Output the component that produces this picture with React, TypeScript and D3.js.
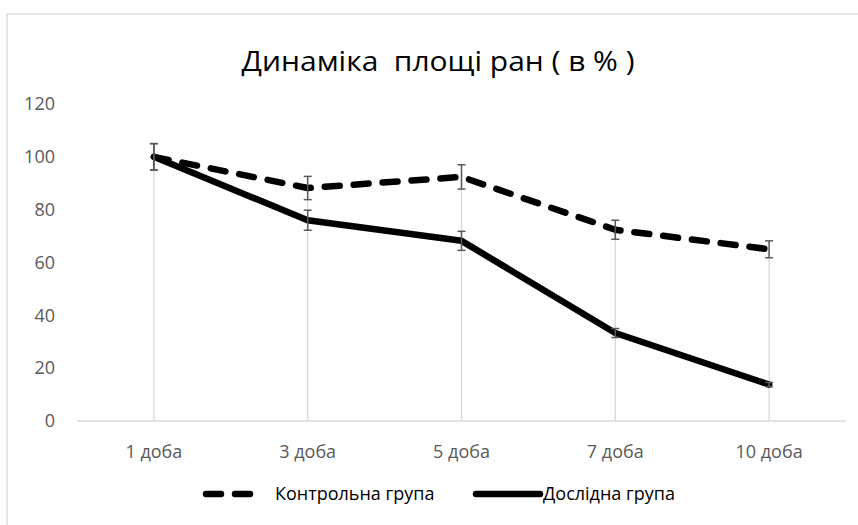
import React from "react";
import * as d3 from "d3";

const categories = ["1 доба", "3 доба", "5 доба", "7 доба", "10 доба"];
const controlValues = [100, 88.2, 92.4, 72.4, 65];
const controlErrors = [5, 4.4, 4.6, 3.6, 3.2];
const experimentValues = [100, 76, 68.2, 33.3, 13.8];
const experimentErrors = [5, 3.8, 3.6, 1.7, 0.8];
const yTicks = [0, 20, 40, 60, 80, 100, 120];
const seriesNames = ["Контрольна група", "Дослідна група"];
const title = "Динаміка  площі ран ( в % )";

const W = 858;
const H = 525;
const left = 77;
const right = 846;
const top = 104;
const bottom = 421;

export default function App() {
  const x = d3.scaleBand<string>().domain(categories).range([left, right]).padding(0);
  const cx = (c: string) => (x(c) as number) + x.bandwidth() / 2;
  const y = d3.scaleLinear().domain([0, 120]).range([bottom, top]);
  const line = d3
    .line<number>()
    .x((_, i) => cx(categories[i]))
    .y((d) => y(d));

  const font = "'Open Sans', 'Noto Sans', sans-serif";
  const grey = "#595959";

  const errBar = (v: number, e: number, c: string, k: string) => (
    <g key={k} stroke={grey} strokeWidth={1.5}>
      <line x1={cx(c)} x2={cx(c)} y1={y(v + e)} y2={y(v - e)} />
      <line x1={cx(c) - 4} x2={cx(c) + 4} y1={y(v + e)} y2={y(v + e)} />
      <line x1={cx(c) - 4} x2={cx(c) + 4} y1={y(v - e)} y2={y(v - e)} />
    </g>
  );

  return (
    <svg
      width={W}
      height={H}
      style={{ position: "absolute", left: 0, top: 0, background: "#fff" }}
    >
      <rect x={7} y={14} width={W + 10} height={H + 10} fill="#fff" stroke="#d9d9d9" strokeWidth={1.3} />
      <text
        x={438}
        y={71}
        textAnchor="middle"
        fontFamily={font}
        fontSize={28}
        fill="#000"
        textLength={393}
        lengthAdjust="spacingAndGlyphs"
        style={{ whiteSpace: "pre" }}
      >
        {title}
      </text>
      {yTicks.map((t) => (
        <text key={t} x={55} y={y(t)} dy="0.35em" textAnchor="end" fontFamily={font} fontSize={18} fill={grey}>
          {t}
        </text>
      ))}
      <line x1={left} x2={right} y1={bottom} y2={bottom} stroke="#d9d9d9" strokeWidth={1.3} />
      {categories.map((c, i) => (
        <line
          key={"drop" + c}
          x1={cx(c)}
          x2={cx(c)}
          y1={y(Math.max(controlValues[i], experimentValues[i]))}
          y2={bottom}
          stroke="#d9d9d9"
          strokeWidth={1.3}
        />
      ))}
      {categories.map((c) => (
        <text key={"lab" + c} x={cx(c)} y={452} dy="0.35em" textAnchor="middle" fontFamily={font} fontSize={18} fill={grey}>
          {c}
        </text>
      ))}
      <path
        d={line(experimentValues) as string}
        fill="none"
        stroke="#000"
        strokeWidth={6.5}
        strokeLinejoin="round"
        strokeLinecap="round"
      />
      <path
        d={line(controlValues) as string}
        fill="none"
        stroke="#000"
        strokeWidth={6.5}
        strokeDasharray="15 14"
        strokeLinejoin="round"
        strokeLinecap="round"
      />
      {categories.map((c, i) => errBar(controlValues[i], controlErrors[i], c, "ce" + i))}
      {categories.map((c, i) => errBar(experimentValues[i], experimentErrors[i], c, "ee" + i))}
      <g>
        <line x1={206} x2={255} y1={494} y2={494} stroke="#000" strokeWidth={6.5} strokeDasharray="15 14" strokeLinecap="round" />
        <text x={275} y={494} dy="0.35em" fontFamily={font} fontSize={18} fill="#000">
          {seriesNames[0]}
        </text>
        <line x1={476} x2={540} y1={494} y2={494} stroke="#000" strokeWidth={6.5} strokeLinecap="round" />
        <text x={543} y={494} dy="0.35em" fontFamily={font} fontSize={18} fill="#000">
          {seriesNames[1]}
        </text>
      </g>
    </svg>
  );
}
